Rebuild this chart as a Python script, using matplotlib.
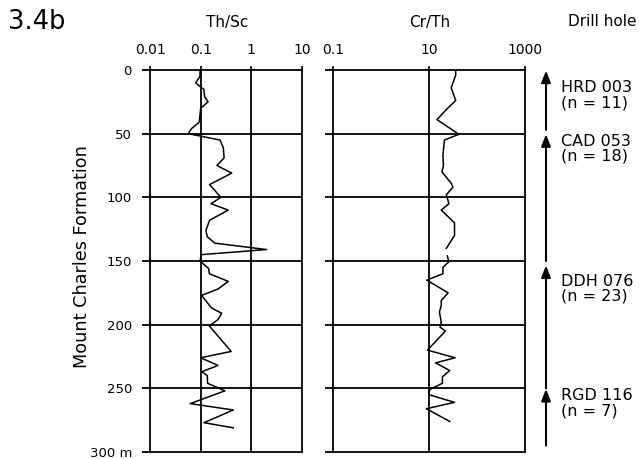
import numpy as np
import matplotlib
matplotlib.use("Agg")
import matplotlib.pyplot as plt

plt.rcParams['font.family'] = ['DejaVu Sans']

# Th/Sc profile (depth m, ratio)
thsc_depth = [0, 5, 10, 13, 15, 21, 25, 30, 35, 41, 46, 50, 55, 61, 69, 75, 81, 90,
              100, 105, 110, 118, 126, 131, 136, 141, 145, 150, 156, 160, 166, 172,
              177, 187, 191, 196, 201, 221, 226, 232, 237, 240, 246, 252, 262, 267,
              277, 281]
thsc_val = [0.097, 0.097, 0.08, 0.097, 0.115, 0.12, 0.14, 0.1, 0.097, 0.094, 0.066,
            0.057, 0.24, 0.28, 0.29, 0.21, 0.41, 0.15, 0.25, 0.16, 0.35, 0.15, 0.127,
            0.135, 0.19, 2.0, 0.104, 0.097, 0.144, 0.148, 0.35, 0.22, 0.104, 0.165,
            0.26, 0.22, 0.148, 0.4, 0.1, 0.22, 0.105, 0.135, 0.137, 0.3, 0.062, 0.44,
            0.116, 0.44]

# Cr/Th profile (depth m, ratio); None = gap in the record
crth_depth = [0, 4, 14, 24, 31, 39, 50.5, 55, 67, 75, 80, 89, 92, 98, 105, 110, 120,
              130, 140, 143, 146, 150.5, 155, 160, 165, 175, 181, 185, 190, 198, 202,
              205, 220, 226, 230, 236, 241, 246, 251, 255, 261, 266, 276]
crth_val = [36, 36, 29, 36, 23, 14.7, 42, 21, 19.5, 20, 18.6, 29, 31.6, 23, 26, 18,
            34, 34, 23, None, 24, 26, 19.5, 19.5, 9, 25, 18, 18, 16.5, 18, 17, 22,
            9.3, 35, 13.7, 27, 19, 19, 10.3, 10, 34, 8.8, 27]

depth_ticks = [0, 50, 100, 150, 200, 250, 300]
depth_labels = ["0", "50", "100", "150", "200", "250", "300 m"]

thsc_ticks = [0.01, 0.1, 1, 10]
thsc_labels = ["0.01", "0.1", "1", "10"]
crth_ticks = [0.1, 10, 1000]
crth_labels = ["0.1", "10", "1000"]

holes = ["HRD 003", "CAD 053", "DDH 076", "RGD 116"]
hole_n = [11, 18, 23, 7]
hole_top = [0, 50, 153, 250]
hole_bottom = [47, 150, 250, 295]
hole_label_depth = [8, 50, 160, 250]

W, H = 639, 459
fig = plt.figure(figsize=(W / 100, H / 100), dpi=100)

def box(x0, x1, y0, y1):
    return [x0 / W, 1 - y1 / H, (x1 - x0) / W, (y1 - y0) / H]

ax1 = fig.add_axes(box(150, 302, 70, 452))
ax2 = fig.add_axes(box(333, 525, 70, 452))

for ax in (ax1, ax2):
    ax.set_xscale('log')
    ax.set_ylim(300, 0)
    for s in ax.spines.values():
        s.set_linewidth(1.3)
    ax.set_yticks(depth_ticks)
    ax.tick_params(axis='y', direction='out', length=6, width=1.3, left=True,
                   right=False)
    ax.tick_params(axis='x', which='both', top=True, bottom=False, labeltop=True,
                   labelbottom=False, direction='out', length=3, width=1.2,
                   labelsize=10, pad=6)
    ax.minorticks_off()
    for d in depth_ticks[1:-1]:
        ax.axhline(d, color='black', lw=1.3, zorder=1)

ax1.set_xlim(0.01, 10)
ax1.set_xticks(thsc_ticks)
ax1.set_xticklabels(thsc_labels)
ax1.minorticks_off()
ax1.set_yticklabels(depth_labels)
ax1.tick_params(axis='y', labelsize=9.5, pad=7)
for v in [0.1, 1]:
    ax1.axvline(v, color='black', lw=1.3, zorder=1)
ax1.plot(thsc_val, thsc_depth, color='black', lw=1.1, zorder=3)

ax2.set_xlim(0.1, 1000)
ax2.set_xticks(crth_ticks)
ax2.set_xticklabels(crth_labels)
ax2.minorticks_off()
ax2.set_yticklabels([])
ax2.axvline(10, color='black', lw=1.3, zorder=1)
cv = np.array([np.nan if v is None else v for v in crth_val], dtype=float)
ax2.plot(cv, crth_depth, color='black', lw=1.1, zorder=3)

# Drill hole arrows
ax3 = fig.add_axes(box(530, 639, 70, 452))
ax3.set_xlim(0, 109)
ax3.set_ylim(300, 0)
ax3.axis('off')
for name, n, t, b, ld in zip(holes, hole_n, hole_top, hole_bottom, hole_label_depth):
    ax3.annotate('', xy=(16, t + 0.5), xytext=(16, b),
                 arrowprops=dict(arrowstyle='-|>,head_length=0.7,head_width=0.28',
                                 color='black', lw=1.5, shrinkA=0, shrinkB=0))
    ax3.text(31, ld, f"{name}\n(n = {n})", fontsize=11.5, va='top', ha='left',
             linespacing=1.0, clip_on=False)

fig.text(8 / W, 1 - 22 / H, "3.4b", fontsize=18.5, va='center', ha='left')
fig.text(227 / W, 1 - 22 / H, "Th/Sc", fontsize=11, va='center', ha='center')
fig.text(430 / W, 1 - 22 / H, "Cr/Th", fontsize=11, va='center', ha='center')
fig.text(568 / W, 1 - 22 / H, "Drill hole", fontsize=11, va='center', ha='left')
fig.text(82 / W, 1 - 257 / H, "Mount Charles Formation", fontsize=12.7,
         rotation=90, va='center', ha='center')

fig.savefig("out.png", dpi=100)
